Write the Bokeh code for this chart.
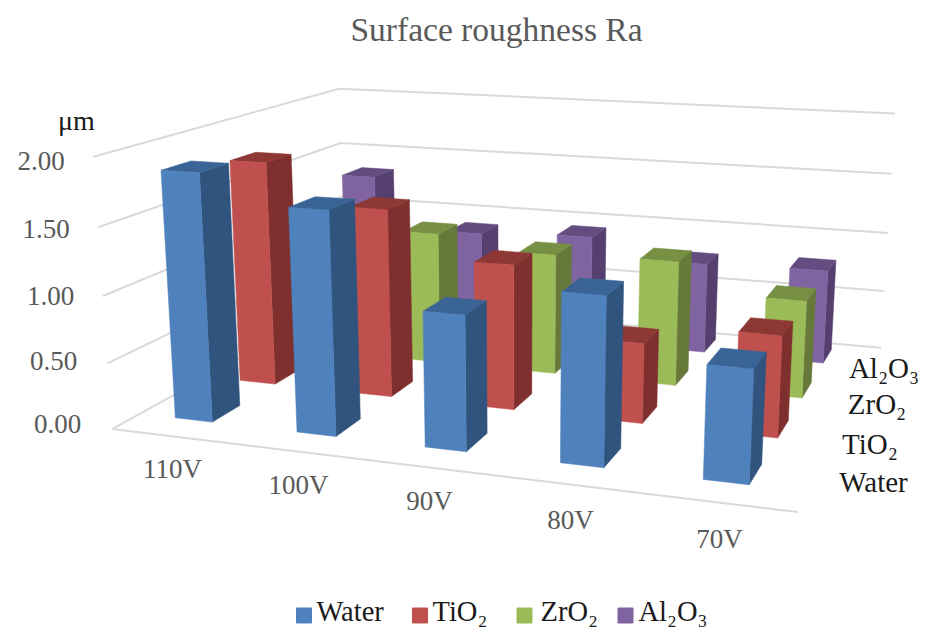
import numpy as np
from bokeh.embed import file_html
from bokeh.resources import INLINE
from bokeh.plotting import figure, ColumnDataSource
from bokeh.core.properties import value

categories = ["110V", "100V", "90V", "80V", "70V"]
series_names = ["Water", "TiO₂", "ZrO₂", "Al₂O₃"]
water = [1.86, 1.655, 0.99, 1.21, 0.80]
tio2 = [1.77, 1.47, 1.12, 0.61, 0.76]
zro2 = [1.20, 1.08, 0.98, 1.00, 0.77]
al2o3 = [1.32, 0.88, 0.92, 0.76, 0.78]
series = [water, tio2, zro2, al2o3]
ticks = [0.0, 0.5, 1.0, 1.5, 2.0]
tick_labels = ["0.00", "0.50", "1.00", "1.50", "2.00"]

front = ["#4F81BD", "#C0504D", "#9BBB59", "#8064A2"]
side = ["#31547E", "#7F302E", "#66793A", "#553F6E"]
top = ["#3B6496", "#8E3836", "#779043", "#644C80"]

# Camera: fitted to the visible box corners (u category, v series, h value) -> page pixel
cam = [
    (0,0,0,111,425),(0,0,.5,106,361),(0,0,1,103,295),(0,0,1.5,98,228),(0,0,2,93,158),
    (0,4,0,345,305),(0,4,.5,344,250),(0,4,1,342,195),(0,4,1.5,340,140),(0,4,2,338,87),
    (5,0,0,798,515),
    (5,4,0,880,344),(5,4,.5,884,289),(5,4,1,887,232),(5,4,1.5,891,174),(5,4,2,895,115),
]
A, b = [], []
for u, v, h, x, y in cam:
    A.append([u, v, h, 1, 0, 0, 0, 0, -x*u, -x*v, -x*h]); b.append(x)
    A.append([0, 0, 0, 0, u, v, h, 1, -y*u, -y*v, -y*h]); b.append(y)
m = np.linalg.lstsq(np.array(A, float), np.array(b, float), rcond=None)[0]
P = np.append(m, 1.0).reshape(3, 4)

def proj(u, v, h):
    q = P @ np.array([u, v, h, 1.0])
    return q[0]/q[2], q[1]/q[2]

def poly(pts):
    xy = [proj(*t) for t in pts]
    return [a for a, _ in xy], [c for _, c in xy]

p = figure(width=925, height=630, x_range=(0, 925), y_range=(630, 0),
           output_backend="svg", toolbar_location=None, min_border=0)
p.axis.visible = False
p.grid.visible = False
p.outline_line_color = None
p.background_fill_color = "white"

# gridlines
gx, gy = [], []
for t in ticks:
    xs, ys = poly([(0, 0, t), (0, 4, t), (5, 4, t)])
    gx.append(xs); gy.append(ys)
xs, ys = poly([(0, 0, 0), (5, 0, 0)])
gx.append(xs); gy.append(ys)
p.multi_line(gx, gy, line_color="#D9D9D9", line_width=2)

# bars
U0, UW = 0.30, 0.31
V0, VD = 0.38, 0.42
xs, ys, cs = [], [], []
for j in range(3, -1, -1):
    for i in range(5):
        a, c = i + U0, i + U0 + UW
        d, e = j + V0, j + V0 + VD
        f = series[j][i]
        for pts, col in (
            ([(c, d, 0), (c, e, 0), (c, e, f), (c, d, f)], side[j]),
            ([(a, d, f), (c, d, f), (c, e, f), (a, e, f)], top[j]),
            ([(a, d, 0), (c, d, 0), (c, d, f), (a, d, f)], front[j]),
        ):
            X, Y = poly(pts)
            xs.append(X); ys.append(Y); cs.append(col)
p.patches(xs="xs", ys="ys", fill_color="cs", line_color="cs", line_width=0.5,
          source=ColumnDataSource(dict(xs=xs, ys=ys, cs=cs)))

font = value("Liberation Serif")
GRAY = "#595959"
INK = "#1a1a1a"

def label(x, y, texts, size, color, align="center", base="middle"):
    p.text(x, y, text=texts, text_font=font, text_font_size=size, text_color=color,
           text_align=align, text_baseline=base)

label([496], [29], ["Surface roughness Ra"], "33.5px", GRAY)
label([57, 53, 50, 45.5, 40.5], [423, 360, 295, 228, 160], tick_labels, "27px", GRAY)
label([76], [120], ["μm"], "28px", INK)
label([172, 298, 429, 570, 719], [468, 484, 500, 519, 538], categories, "27px", GRAY)
label([873, 869.5, 876.5, 883.5], [481, 443, 403, 367], series_names, "29px", INK)

# legend
sq_x = [303.5, 419.5, 524, 625]
txt_x = [316, 432, 540, 638]
p.scatter(sq_x, [615]*4, size=15, marker="square", color=front)
label(txt_x, [611]*4, series_names, "28.5px", INK, "left")

open("out.html", "w").write(file_html(p, INLINE))
